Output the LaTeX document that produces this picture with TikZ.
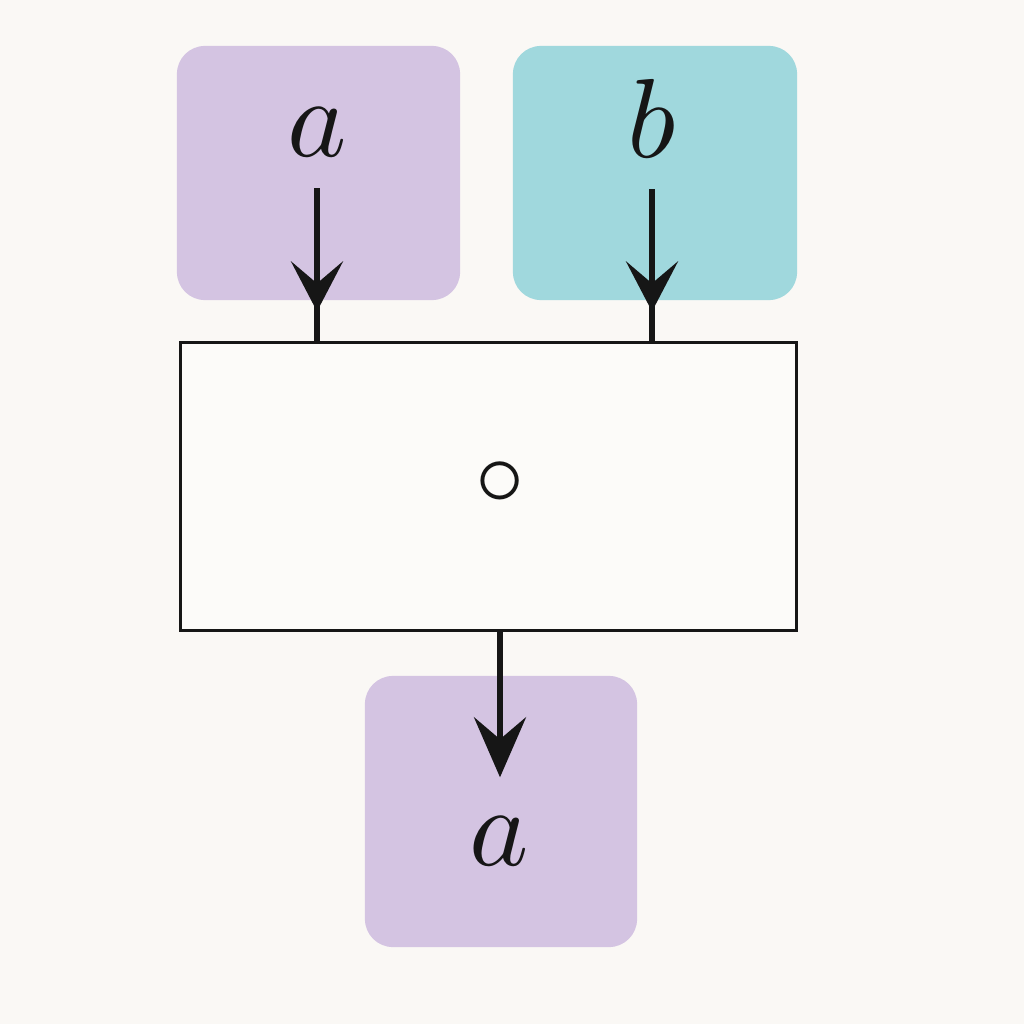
\documentclass[tikz,border=0pt]{standalone}
\usepackage{amsmath, amssymb}
\usepackage{tikz}
\usetikzlibrary{arrows.meta,decorations.markings}
\usetikzlibrary{positioning}

\definecolor{paper}{HTML}{FAF8F5}
\definecolor{lilac}{HTML}{D4C4E2}
\definecolor{aqua}{HTML}{A0D8DD}
\definecolor{ink}{HTML}{161616}

\begin{document}
\begin{tikzpicture}
	[
	x=0.01cm, y=-0.01cm,
  > = {Stealth[length=0.5cm, width=0.52cm, inset=0.22cm]},
  tile/.style = {rounded corners=0.28cm, inner sep=0pt, minimum width=2.83cm, minimum height=2.54cm},
  sym/.style = {inner sep=0pt, text=ink, scale=3.2},
  link/.style = {draw=ink, line width=1.7pt},
  arrow inside/.style = {postaction=decorate,decoration={markings,mark=at position #1 with {\arrow{>}}}}
  ]
	\fill[paper] (0,0) rectangle (1024,1024);
	\useasboundingbox (0,0) rectangle (1024,1024);

	% inputs
	\node[tile, fill=lilac] (ta) at (318.5,173) {};
	\node[tile, fill=aqua, minimum width=2.84cm] (tb) at (655,173) {};
	\node[sym, anchor=base] (la) at (317,156) {$a$};
	\node[sym, anchor=base] (lb) at (652,157) {$b$};

	% operator
	\node[draw=ink, fill=paper!60!white, line width=0.85pt, minimum width=6.15cm, minimum height=2.87cm] (op) at (488.5,486.5) {};
	\node[inner sep=0pt, text=ink, scale=2.8] (dot) at (500,484) {$\circ$};

	% output
	\node[tile, fill=lilac, minimum width=2.72cm, minimum height=2.71cm] (tc) at (501,811.5) {};
	\node[sym, anchor=base] (lc) at (499,865) {$a$};

		\draw[link, arrow inside=-0.3cm] ([yshift=-0.3cm]la.south) -- (la.south |- op.north);
		\draw[link, arrow inside=-0.3cm] ([yshift=-0.3cm]lb.south) -- (lb.south |- op.north);
		\draw[link, {->[length=0.6cm]}, shorten >=0.37cm] (op.south -| dot) -- (dot |- lc.north);
	\end{tikzpicture}
\end{document}
